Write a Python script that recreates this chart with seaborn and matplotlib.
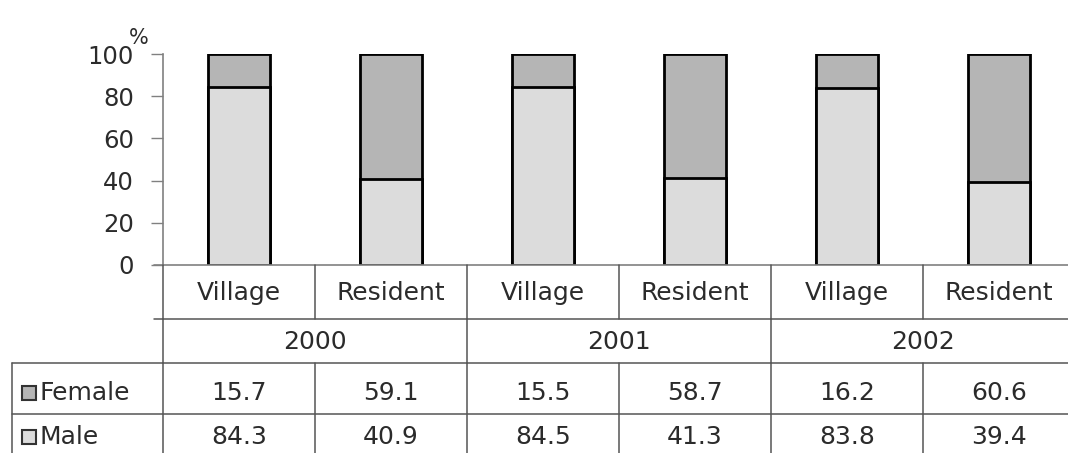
import matplotlib
matplotlib.use('Agg')
import matplotlib.pyplot as plt
from matplotlib.patches import Rectangle
import seaborn as sns
import pandas as pd

years = ['2000', '2001', '2002']
areas = ['Village', 'Resident']
female = [15.7, 59.1, 15.5, 58.7, 16.2, 60.6]
male = [84.3, 40.9, 84.5, 41.3, 83.8, 39.4]
yticks = [0, 20, 40, 60, 80, 100]

MALE_C = '#dcdcdc'
FEMALE_C = '#b5b5b5'
TXT = '#2b2b2b'
LINE = '#555555'

sns.set_style('white')
plt.rcParams['font.family'] = ['DejaVu Sans']

cols = [f'{y} {a}' for y in years for a in areas]
df = pd.DataFrame({'col': cols, 'male': male, 'female': female})
df['total'] = df['male'] + df['female']

W, H = 1068, 453
fig = plt.figure(figsize=(W / 100, H / 100), dpi=100)
fig.patch.set_facecolor('white')

# pixel geometry
ax_left, col_w, base_y, top_y = 163, 152, 265, 54
left = ax_left / W
width = 6 * col_w / W
ax = fig.add_axes([left, (H - base_y) / H, width, (base_y - top_y) / H])

sns.barplot(data=df, x='col', y='total', order=cols, color=FEMALE_C,
            width=0.41, edgecolor='black', linewidth=2, saturation=1, ax=ax)
sns.barplot(data=df, x='col', y='male', order=cols, color=MALE_C,
            width=0.41, edgecolor='black', linewidth=2, saturation=1, ax=ax)

ax.set_xlim(-0.5, 5.5)
ax.set_ylim(0, 100)
ax.set_yticks(yticks)
ax.set_yticklabels([str(t) for t in yticks], fontsize=17.5, color=TXT)
ax.set_xticks([])
ax.set_xlabel('')
ax.set_ylabel('')
ax.tick_params(axis='y', direction='out', length=9, width=1, color='#808080',
               left=True, pad=12)
for s in ['top', 'right', 'bottom']:
    ax.spines[s].set_visible(False)
ax.spines['left'].set_color('#808080')
ax.spines['left'].set_linewidth(1.2)
ax.text(-0.66, 103, '%', fontsize=15, color=TXT, ha='center', va='bottom',
        clip_on=False)

# data table below the axis
tab = fig.add_axes([left, 0, width, (H - base_y) / H])
tab.set_xlim(-0.5, 5.5)
tab.set_ylim(H - base_y, 0)
tab.axis('off')

r1, r2, r3 = 54, 98, 149
x_edge = -0.5 - (ax_left - 12) / col_w
x_stub = -0.5 - 9 / col_w
lk = dict(color=LINE, lw=1.1, clip_on=False)

tab.plot([x_stub, 5.6], [0, 0], color='#808080', lw=1.2, clip_on=False)
tab.plot([x_stub, 5.6], [r1, r1], **lk)
tab.plot([x_edge, 5.6], [r2, r2], **lk)
tab.plot([x_edge, 5.6], [r3, r3], **lk)
for i in range(7):
    b = i - 0.5
    tab.plot([b, b], [0, r1], **lk)
    tab.plot([b, b], [r2, 200], **lk)
    if i % 2 == 0:
        tab.plot([b, b], [r1, r2], **lk)
tab.plot([x_edge, x_edge], [r2, 200], **lk)

fs = 18
for i, c in enumerate(cols):
    tab.text(i, r1 / 2 + 1, areas[i % 2], fontsize=fs, color=TXT,
             ha='center', va='center')
    tab.text(i, 128, f'{female[i]:.1f}', fontsize=fs, color=TXT,
             ha='center', va='center')
    tab.text(i, 172, f'{male[i]:.1f}', fontsize=fs, color=TXT,
             ha='center', va='center')
for j, y in enumerate(years):
    tab.text(2 * j + 0.5, (r1 + r2) / 2 + 1, y, fontsize=fs, color=TXT,
             ha='center', va='center')

sq = 14 / col_w
for label, color, yc in [('Female', FEMALE_C, 128), ('Male', MALE_C, 172)]:
    x0 = x_edge + 10 / col_w
    tab.add_patch(Rectangle((x0, yc - 7), sq, 14, facecolor=color,
                            edgecolor='#333333', lw=1.5, clip_on=False))
    tab.text(x0 + sq + 4 / col_w, yc, label, fontsize=fs, color=TXT,
             ha='left', va='center', clip_on=False)

fig.savefig('out.png', dpi=100, facecolor='white')
